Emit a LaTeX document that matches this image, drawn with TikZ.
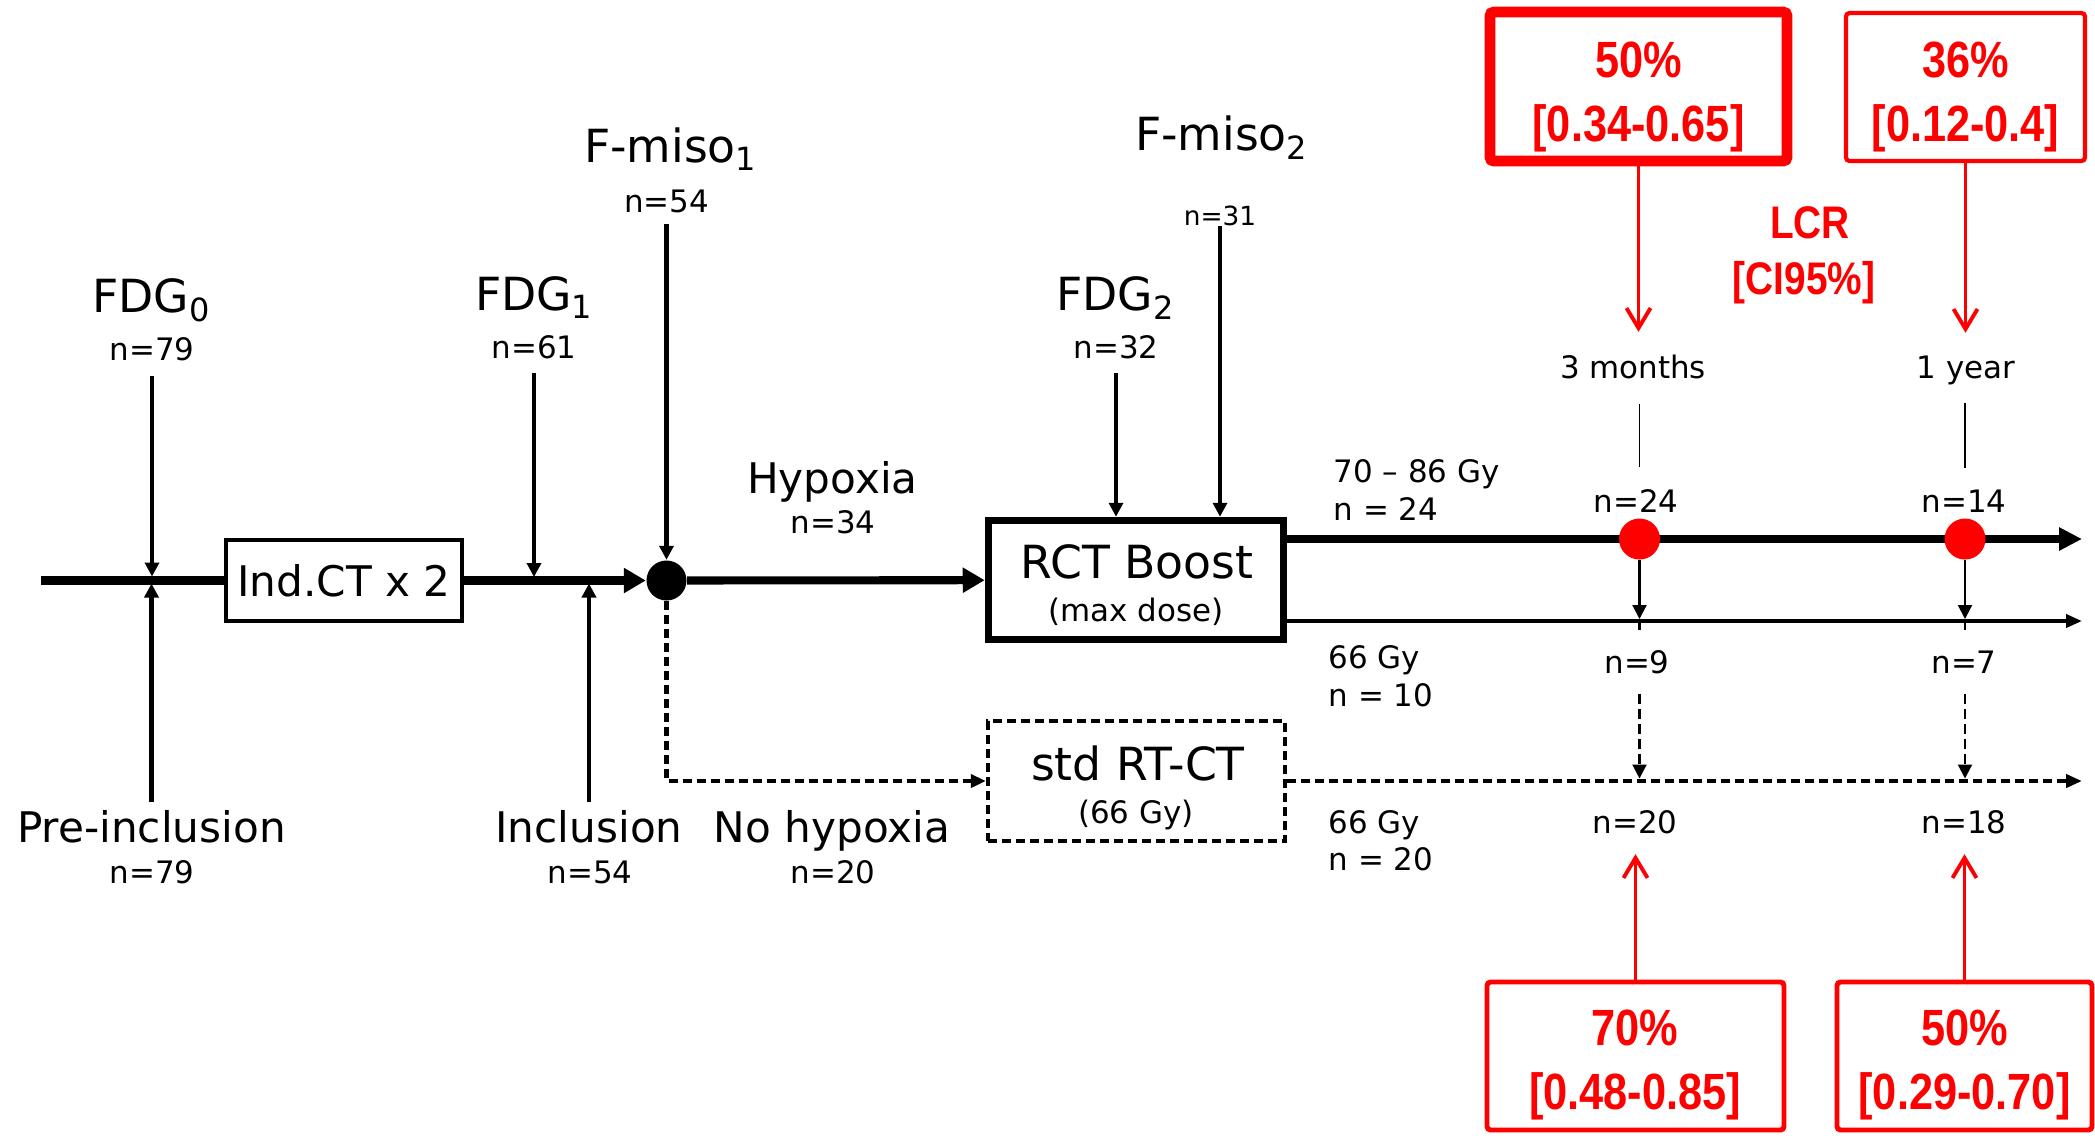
\documentclass[tikz,border=0pt]{standalone}
\usepackage{fontspec}
\setmainfont{DejaVu Sans}
\newfontfamily\redfont[FakeStretch=0.85]{Liberation Sans}
\usetikzlibrary{arrows.meta}

\begin{document}
\begin{tikzpicture}[
    normal/.style={draw, rectangle, inner sep=0},
    txt/.style={draw=none, fill=none, inner sep=0, anchor=base},
    bigtxt/.style={txt, font=\fontsize{13}{15}\selectfont},
    midtxt/.style={txt, font=\fontsize{12}{14}\selectfont},
    smalltxt/.style={txt, font=\fontsize{8.8}{10}\selectfont},
    tinytxt/.style={txt, font=\fontsize{7.5}{9}\selectfont},
    result/.style={txt, text=red, font=\redfont\bfseries\fontsize{14.5}{17}\selectfont},
    rbox/.style={normal, draw=red, rounded corners=1pt, minimum height=1.48cm, line width=1.4pt},
    reddot/.style={circle, fill=red, inner sep=0, minimum size=0.41cm},
    redarrow/.style={red, line width=1.1pt, -{Straight Barb[length=0.2cm, width=0.24cm]}},
    dashy/.style={dash pattern=on 0.09cm off 0.05cm},
    >={Triangle[length=0.14cm, width=0.14cm]}
  ]
  \def\edgewidth{1.2pt}
  \def\mainwidth{2.3pt}
  \useasboundingbox (0,0) rectangle (20.95,-11.39);

  % boxes and junctions
  \coordinate (S) at (0.415,-5.805);
  \node[normal, line width=1.2pt, minimum width=2.36cm, minimum height=0.81cm, font=\fontsize{12}{14}\selectfont] (A) at (3.44,-5.805) {Ind.CT x 2};
  \node[circle, fill=black, inner sep=0, minimum size=0.4cm] (D) at (6.665,-5.805) {};
  \node[normal, line width=2pt, minimum width=2.955cm, minimum height=1.195cm] (B) at (11.36,-5.80) {};
  \node[normal, line width=1.2pt, dashy, minimum width=2.97cm, minimum height=1.2cm] (C) at (11.365,-7.81) {};
  \coordinate (E1) at (20.82,-5.39);
  \coordinate (E2) at (20.82,-6.21);
  \coordinate (E3) at (20.82,-7.81);

  % texts
  \node[bigtxt] (F0) at (1.52,-3.12) {FDG\textsubscript{0}};
  \node[smalltxt] (N0) at (1.52,-3.60) {n=79};
  \node[bigtxt] (F1) at (5.345,-3.10) {FDG\textsubscript{1}};
  \node[smalltxt] (N1) at (5.34,-3.58) {n=61};
  \node[bigtxt] (M1) at (6.71,-1.62) {F-miso\textsubscript{1}};
  \node[smalltxt] (N54) at (6.665,-2.12) {n=54};
  \node[bigtxt] (F2) at (11.16,-3.10) {FDG\textsubscript{2}};
  \node[smalltxt] (N32) at (11.16,-3.58) {n=32};
  \node[bigtxt] (M2) at (12.22,-1.50) {F-miso\textsubscript{2}};
  \node[tinytxt] (N31) at (12.20,-2.25) {n=31};
  \node[midtxt] (H) at (8.325,-4.93) {Hypoxia};
  \node[smalltxt] (N34) at (8.33,-5.33) {n=34};
  \node[bigtxt] (RB) at (11.37,-5.78) {RCT Boost};
  \node[smalltxt] (RBd) at (11.36,-6.21) {(max dose)};
  \node[bigtxt] (SR) at (11.38,-7.80) {std RT-CT};
  \node[smalltxt] (SRd) at (11.36,-8.23) {(66 Gy)};
  \node[midtxt] (P) at (1.515,-8.42) {Pre-inclusion};
  \node[smalltxt] (NP) at (1.52,-8.83) {n=79};
  \node[midtxt] (I) at (5.89,-8.42) {Inclusion};
  \node[smalltxt] (NI) at (5.90,-8.83) {n=54};
  \node[midtxt] (NH) at (8.32,-8.42) {No hypoxia};
  \node[smalltxt] (NNH) at (8.33,-8.83) {n=20};

  \node[smalltxt, anchor=base west] (G1) at (13.33,-4.82) {70 – 86 Gy};
  \node[smalltxt, anchor=base west] (G1n) at (13.33,-5.20) {n = 24};
  \node[smalltxt, anchor=base west] (G2) at (13.28,-6.68) {66 Gy};
  \node[smalltxt, anchor=base west] (G2n) at (13.28,-7.06) {n = 10};
  \node[smalltxt, anchor=base west] (G3) at (13.28,-8.33) {66 Gy};
  \node[smalltxt, anchor=base west] (G3n) at (13.28,-8.70) {n = 20};

  \node[smalltxt] (T3) at (16.33,-3.78) {3 months};
  \node[smalltxt] (T12) at (19.66,-3.78) {1 year};
  \node[smalltxt] (N24) at (16.36,-5.12) {n=24};
  \node[smalltxt] (N14) at (19.64,-5.12) {n=14};
  \node[smalltxt] (N9) at (16.37,-6.73) {n=9};
  \node[smalltxt] (N7) at (19.64,-6.73) {n=7};
  \node[smalltxt] (N20) at (16.35,-8.33) {n=20};
  \node[smalltxt] (N18) at (19.64,-8.33) {n=18};

  % LCR results
  \node[rbox, line width=3pt, minimum width=2.97cm, minimum height=1.49cm] (L1) at (16.385,-0.865) {};
  \node[rbox, line width=1.2pt, minimum width=2.39cm] (L2) at (19.655,-0.87) {};
  \node[rbox, minimum width=2.97cm] (L3) at (16.355,-10.56) {};
  \node[rbox, minimum width=2.55cm] (L4) at (19.645,-10.56) {};
  \node[result] at (16.385,-0.77) {50\%};
  \node[result] at (16.385,-1.41) {[0.34-0.65]};
  \node[result] at (19.655,-0.77) {36\%};
  \node[result] at (19.655,-1.41) {[0.12-0.4]};
  \node[result] at (16.35,-10.45) {70\%};
  \node[result] at (16.35,-11.09) {[0.48-0.85]};
  \node[result] at (19.645,-10.45) {50\%};
  \node[result] at (19.645,-11.09) {[0.29-0.70]};
  \node[result, font=\redfont\bfseries\fontsize{13}{15}\selectfont] (LCR) at (18.10,-2.38) {LCR};
  \node[result, font=\redfont\bfseries\fontsize{13}{15}\selectfont] (CI) at (18.04,-2.94) {[CI95\%]};

  % main course
  \draw[line width=\mainwidth] (S) -- (A);
  \draw[line width=\mainwidth, -{Triangle[length=0.22cm, width=0.24cm]}] (A) -- (D);
  \draw[line width=\mainwidth, -{Triangle[length=0.22cm, width=0.24cm]}] (D) -- (B);
  \draw[line width=\edgewidth, dashy, -{Triangle[length=0.15cm, width=0.13cm]}] (D) |- (C);
  \draw[line width=\mainwidth, -{Triangle[length=0.23cm, width=0.22cm]}] (B.east |- E1) -- (E1);
  \draw[line width=1.1pt, -{Triangle[length=0.16cm, width=0.13cm]}] (B.east |- E2) -- (E2);
  \draw[line width=1.4pt, dashy, -{Triangle[length=0.16cm, width=0.13cm]}] (C.east) -- (E3);

  % imaging and inclusion
  \draw[->, line width=\edgewidth, shorten <=0.15cm, shorten >=0.04cm] (N0.south) -- (N0.south |- S);
  \draw[->, line width=\edgewidth, shorten <=0.14cm, shorten >=0.035cm] (N1.south) -- (N1.south |- S);
  \draw[->, line width=\edgewidth, shorten <=0.07cm, shorten >=0.03cm] (P.north) -- (P.north |- S);
  \draw[->, line width=\edgewidth, shorten <=0.07cm, shorten >=0.03cm] (I.north) -- (I.north |- S);
  \draw[->, line width=\edgewidth, shorten <=0.11cm] (N54.south) -- (D);
  \draw[->, line width=\edgewidth, shorten <=0.14cm] (N32.south) -- (N32.south |- B.north);
  \draw[->, line width=\edgewidth] (N31.south) -- (N31.south |- B.north);

  % follow-up at 3 months and 1 year
  \node[reddot] (R1) at (16.395,-5.39) {};
  \node[reddot] (R2) at (19.65,-5.39) {};
  \draw[line width=0.5pt, shorten <=0.25cm, shorten >=0.21cm] (R1 |- T3.south) -- (R1 |- N24.north);
  \draw[line width=0.5pt, shorten <=0.18cm, shorten >=0.21cm] (R2 |- T12.south) -- (R2 |- N14.north);
  \draw[->, line width=0.6pt, shorten >=0.02cm] (R1) -- (R1 |- E2);
  \draw[->, line width=0.6pt, shorten >=0.02cm] (R2) -- (R2 |- E2);
  \draw[line width=0.6pt] (R1 |- E2) -- ++(0,-0.09);
  \draw[line width=0.6pt] (R2 |- E2) -- ++(0,-0.09);
  \draw[->, line width=0.6pt, dash pattern=on 0.1cm off 0.05cm, shorten <=0.2cm, shorten >=0.025cm] (R1 |- N9.south) -- (R1 |- E3);
  \draw[->, line width=0.6pt, dash pattern=on 0.1cm off 0.05cm, shorten <=0.2cm, shorten >=0.025cm] (R2 |- N7.south) -- (R2 |- E3);

  \draw[redarrow, shorten >=0.22cm] (L1.south) -- (L1.south |- T3.north);
  \draw[redarrow, shorten >=0.22cm] (L2.south) -- (L2.south |- T12.north);
  \draw[redarrow, shorten >=0.2cm] (L3.north) -- (L3.north |- N20.south);
  \draw[redarrow, shorten >=0.2cm] (L4.north) -- (L4.north |- N18.south);
\end{tikzpicture}
\end{document}
